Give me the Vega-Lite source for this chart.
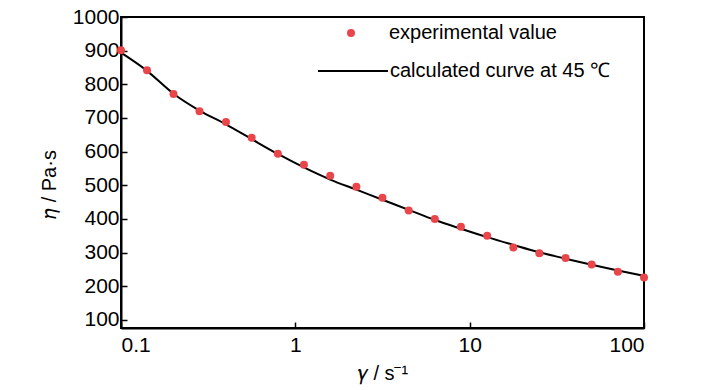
{
  "$schema": "https://vega.github.io/schema/vega-lite/v6.json",
  "width": 523,
  "height": 311,
  "autosize": {"type": "none"},
  "padding": {"left": 121, "top": 17, "right": 84, "bottom": 62},
  "background": "white",
  "config": {
    "font": "Liberation Sans",
    "view": {"stroke": "black", "strokeWidth": 2},
    "axis": {
      "domainColor": "black", "domainWidth": 2, "tickColor": "black", "tickWidth": 1.5,
      "labelColor": "black", "titleColor": "black", "labelFontSize": 21, "titleFontSize": 20,
      "titleFontWeight": "normal", "grid": false
    },
    "legend": {"labelFontSize": 20, "labelColor": "black", "padding": 0, "labelLimit": 0}
  },
  "datasets": {
    "exp": [
      {"rate": 0.1, "eta": 901}, {"rate": 0.141, "eta": 842}, {"rate": 0.2, "eta": 771},
      {"rate": 0.282, "eta": 720}, {"rate": 0.4, "eta": 688}, {"rate": 0.562, "eta": 641},
      {"rate": 0.794, "eta": 594}, {"rate": 1.12, "eta": 561}, {"rate": 1.585, "eta": 528},
      {"rate": 2.24, "eta": 496}, {"rate": 3.16, "eta": 463}, {"rate": 4.47, "eta": 425},
      {"rate": 6.31, "eta": 400}, {"rate": 8.91, "eta": 377}, {"rate": 12.6, "eta": 350},
      {"rate": 17.8, "eta": 315}, {"rate": 25.1, "eta": 298}, {"rate": 35.5, "eta": 284},
      {"rate": 50.1, "eta": 265}, {"rate": 70.8, "eta": 243}, {"rate": 100, "eta": 226}
    ],
    "calc": [
      {"rate": 0.1, "eta": 894}, {"rate": 0.141, "eta": 840}, {"rate": 0.2, "eta": 772},
      {"rate": 0.282, "eta": 722}, {"rate": 0.4, "eta": 681}, {"rate": 0.562, "eta": 637},
      {"rate": 0.794, "eta": 593}, {"rate": 1.12, "eta": 553}, {"rate": 1.585, "eta": 517},
      {"rate": 2.24, "eta": 487}, {"rate": 3.16, "eta": 457}, {"rate": 4.47, "eta": 427},
      {"rate": 6.31, "eta": 397}, {"rate": 8.91, "eta": 371}, {"rate": 12.6, "eta": 346},
      {"rate": 17.8, "eta": 323}, {"rate": 25.1, "eta": 301}, {"rate": 35.5, "eta": 282},
      {"rate": 50.1, "eta": 264}, {"rate": 70.8, "eta": 247}, {"rate": 100, "eta": 231}
    ]
  },
  "encoding": {
    "x": {
      "field": "rate", "type": "quantitative",
      "scale": {"type": "log", "domain": [0.1, 100], "nice": false},
      "axis": {"values": [0.1, 1, 10, 100], "format": "~g", "tickSize": -6, "labelPadding": 12,
               "title": "𝛾 / s⁻¹", "titlePadding": 8}
    },
    "y": {
      "field": "eta", "type": "quantitative",
      "scale": {"domain": [76, 1000], "nice": false, "zero": false},
      "axis": {"values": [100, 200, 300, 400, 500, 600, 700, 800, 900, 1000], "format": "d",
               "tickSize": -6, "labelPadding": 8, "title": "𝜂 / Pa·s", "titlePadding": 13,
               "titleY": 167}
    }
  },
  "layer": [
    {
      "data": {"name": "calc"},
      "transform": [{"calculate": "'calculated curve at 45 ℃'", "as": "s"}],
      "mark": {"type": "line", "interpolate": "monotone", "strokeWidth": 2},
      "encoding": {
        "stroke": {
          "field": "s", "type": "nominal",
          "scale": {"range": ["black"]},
          "legend": {"title": null, "orient": "none", "legendX": 196, "legendY": 18,
                     "symbolType": "stroke", "symbolSize": 4900, "symbolStrokeWidth": 2,
                     "labelOffset": 1}
        }
      }
    },
    {
      "data": {"name": "exp"},
      "transform": [{"calculate": "'experimental value'", "as": "s"}],
      "mark": {"type": "point", "filled": true, "size": 64, "opacity": 1},
      "encoding": {
        "fill": {
          "field": "s", "type": "nominal",
          "scale": {"range": ["#e8464b"]},
          "legend": {"title": null, "orient": "none", "legendX": 220, "legendY": 6,
                     "symbolType": "circle", "symbolSize": 64, "symbolOpacity": 1,
                     "labelOffset": 28}
        }
      }
    }
  ]
}
